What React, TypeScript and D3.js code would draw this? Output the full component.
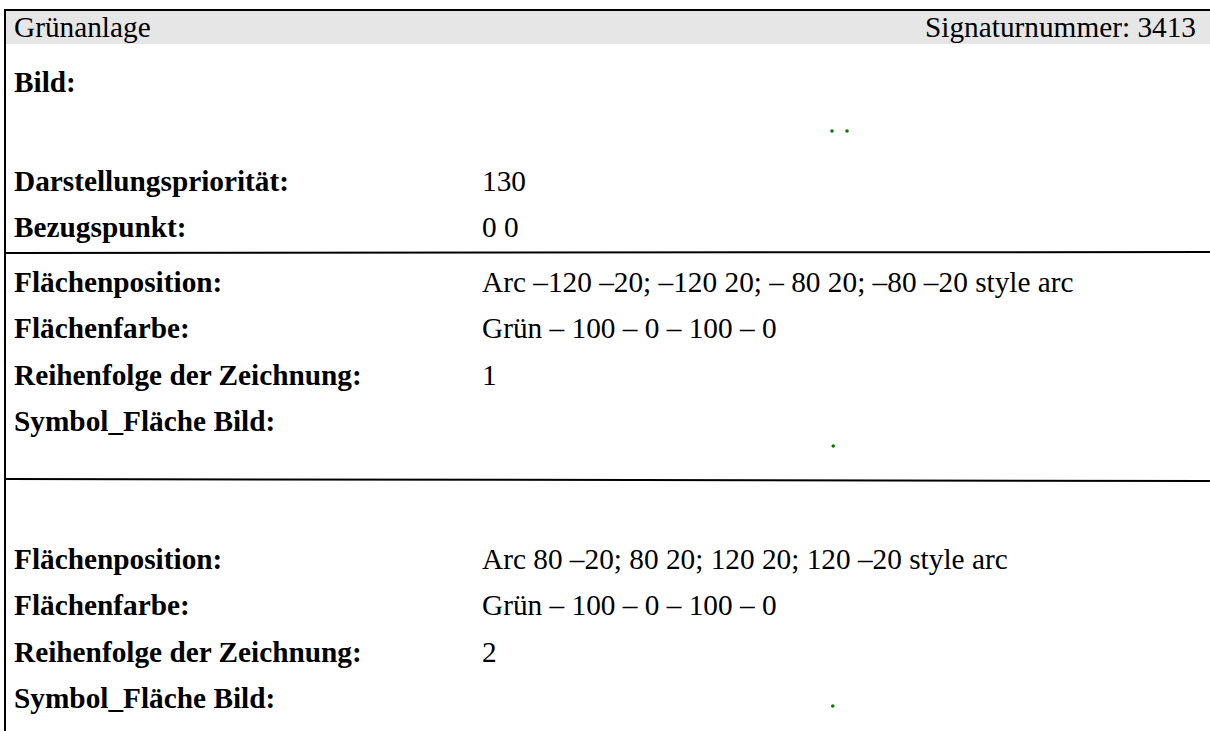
import React from "react";
import * as d3 from "d3";

const headerLeft = "Grünanlage";
const headerRight = "Signaturnummer: 3413";
const bildLabel = "Bild:";
const topLabels = ["Darstellungspriorität:", "Bezugspunkt:"];
const topValues = ["130", "0 0"];
const blockLabels = ["Flächenposition:", "Flächenfarbe:", "Reihenfolge der Zeichnung:", "Symbol_Fläche Bild:"];
const block1Values = ["Arc –120 –20; –120 20; – 80 20; –80 –20 style arc", "Grün – 100 – 0 – 100 – 0", "1", ""];
const block2Values = ["Arc 80 –20; 80 20; 120 20; 120 –20 style arc", "Grün – 100 – 0 – 100 – 0", "2", ""];
// symbol centres (x of each arc area) in symbol units
const bildDots = [-100, 100];
const symbolDots1 = [0];
const symbolDots2 = [0];

const W = 1210;
const H = 731;
const FONT = "'Liberation Serif', 'Times New Roman', serif";
const FS = 29.3;
const GREEN = "#008000";

export default function App() {
  const rowStep = 46.3;
  const topY = d3.scaleLinear().domain([0, 1]).range([191, 191 + rowStep]);
  const b1Y = d3.scaleLinear().domain([0, 1]).range([292, 292 + rowStep]);
  const b2Y = d3.scaleLinear().domain([0, 1]).range([569, 569 + rowStep]);
  const bildX = d3.scaleLinear().domain([-120, 120]).range([830.5, 848.5]);
  const symX = d3.scaleLinear().domain([-20, 20]).range([831, 834.5]);

  const labelX = 14;
  const valueX = 482;

  const renderBlock = (vals: string[], y: d3.ScaleLinear<number, number>, key: string) =>
    blockLabels.map((lab, i) => (
      <g key={key + i}>
        <text x={labelX} y={y(i)} fontWeight="bold">{lab}</text>
        {vals[i] ? <text x={valueX} y={y(i)}>{vals[i]}</text> : null}
      </g>
    ));

  return (
    <svg
      width={W}
      height={H}
      viewBox={`0 0 ${W} ${H}`}
      style={{ position: "absolute", left: 0, top: 0, background: "#fff" }}
      fontFamily={FONT}
      fontSize={FS}
      fill="#000"
    >
      <rect x={0} y={0} width={W} height={H} fill="#fff" />
      {/* header band */}
      <rect x={6} y={11} width={W - 6} height={33} fill="#e6e6e6" />
      <line x1={4} x2={W} y1={10} y2={10} stroke="#000" strokeWidth={2} />
      <line x1={5} x2={5} y1={9} y2={H} stroke="#000" strokeWidth={2} />
      <text x={labelX} y={37}>{headerLeft}</text>
      <text x={1196} y={37} textAnchor="end">{headerRight}</text>

      <text x={labelX} y={92} fontWeight="bold">{bildLabel}</text>
      {bildDots.map((d, i) => (
        <circle key={"bd" + i} cx={bildX(d)} cy={131} r={1.8} fill={GREEN} />
      ))}

      {topLabels.map((lab, i) => (
        <g key={"t" + i}>
          <text x={labelX} y={topY(i)} fontWeight="bold">{lab}</text>
          <text x={valueX} y={topY(i)}>{topValues[i]}</text>
        </g>
      ))}

      <line x1={6} x2={W} y1={253} y2={252} stroke="#000" strokeWidth={2} />

      {renderBlock(block1Values, b1Y, "b1")}
      {symbolDots1.map((d, i) => (
        <circle key={"s1" + i} cx={symX(d) + 0.5} cy={446} r={1.8} fill={GREEN} />
      ))}

      <line x1={6} x2={W} y1={479} y2={481} stroke="#000" strokeWidth={2} />

      {renderBlock(block2Values, b2Y, "b2")}
      {symbolDots2.map((d, i) => (
        <circle key={"s2" + i} cx={symX(d)} cy={706} r={1.8} fill={GREEN} />
      ))}
    </svg>
  );
}
